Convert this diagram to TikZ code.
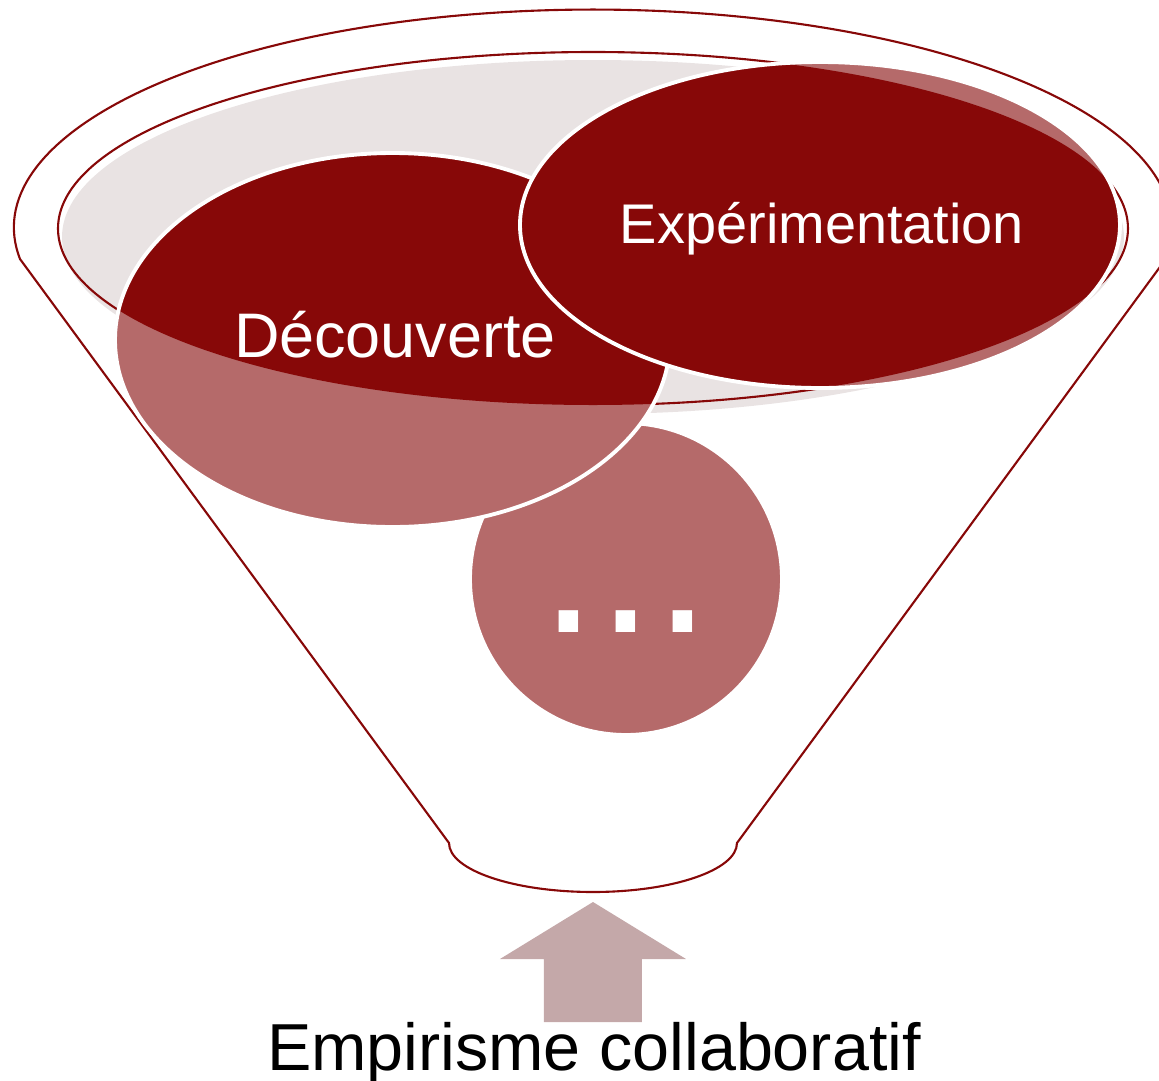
\documentclass[tikz,border=0pt]{standalone}
\usepackage{fontspec}
\setmainfont{Liberation Sans}
\usepackage{tikz}
\definecolor{funnelred}{RGB}{135,8,8}
\definecolor{paleball}{RGB}{181,106,106}
\definecolor{rimgray}{RGB}{233,227,227}
\definecolor{arrowpink}{RGB}{196,168,169}

\begin{document}
\begin{tikzpicture}[x=0.01cm,y=-0.01cm,
  ball/.style={draw=white,line width=1.1pt},
  rimline/.style={draw=funnelred,line width=0.6pt},
  lbl/.style={text=white,inner sep=0pt,anchor=base}]
\clip (0,0) rectangle (1159,1081);
% funnel body
\draw[rimline] (449,843) -- (20,259)
  arc[start angle=171.7,end angle=368.3,x radius=579,y radius=218]
  -- (737,843) arc[start angle=0,end angle=180,x radius=144,y radius=49] -- cycle;
% rim
\fill[rimgray] (593,237) ellipse[x radius=531,y radius=177];
\draw[rimline] (593,228.5) ellipse[x radius=535,y radius=176.5];
% balls, back to front
\foreach \cx/\cy/\rx/\ry in {626/579/156/156,392.5/340/277.5/187,820/225/300/163}{
 \fill[paleball] (\cx,\cy) ellipse[x radius=\rx,y radius=\ry];
 \begin{scope}
  \clip (593,228.5) ellipse[x radius=535,y radius=176.5];
  \fill[funnelred] (\cx,\cy) ellipse[x radius=\rx,y radius=\ry];
 \end{scope}
 \draw[ball] (\cx,\cy) ellipse[x radius=\rx,y radius=\ry];
}
\node[lbl,font=\fontsize{17.9}{20}\selectfont] (decouverte) at (395,357) {Découverte};
\node[lbl,font=\fontsize{15.9}{20}\selectfont] (experimentation) at (822,243) {Expérimentation};
\node[lbl,font=\fontsize{58}{60}\selectfont] (etc) at (626,632) {...};
% input arrow
\fill[arrowpink] (593,902) -- (686,959) -- (642,959) -- (642,1022)
  -- (544,1022) -- (544,959) -- (500,959) -- cycle;
\node[inner sep=0pt,anchor=base,font=\fontsize{18.9}{22}\selectfont] (empirisme) at (594,1070) {Empirisme collaboratif};
\end{tikzpicture}
\end{document}
